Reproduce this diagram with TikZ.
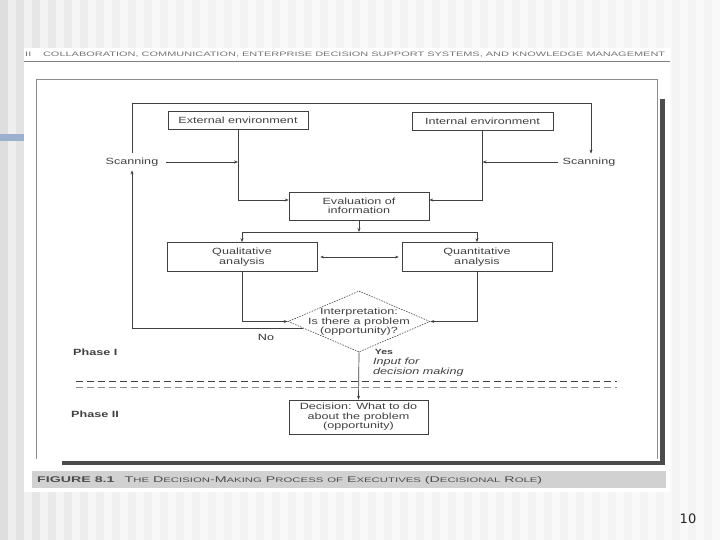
\documentclass[tikz,border=0pt]{standalone}
\usepackage{graphicx}
\usepackage{fontspec}
\setmainfont{Liberation Sans}
\newfontfamily\diag[FakeStretch=1.4]{Liberation Sans}
\newfontfamily\numfont{DejaVu Sans}
\usetikzlibrary{shapes.geometric,arrows.meta}
\definecolor{ink}{gray}{0.25}
\definecolor{barblue}{HTML}{9AB0CC}
\begin{document}
\begin{tikzpicture}[x=1pt,y=-1pt,
  box/.style={draw=ink, line width=0.6pt, inner sep=0pt, align=center,
    font=\diag\fontsize{9}{9.5}\selectfont, text=ink},
  lbl/.style={inner sep=0pt, font=\diag\fontsize{9}{9.5}\selectfont, text=ink},
  conn/.style={draw=ink, line width=0.7pt},
  arr/.style={conn, -{Stealth[length=4pt,width=3pt]}},
  dashline/.style={dash pattern=on 7pt off 4pt, line width=0.6pt},
]
\useasboundingbox (0,0) rectangle (720,540);
% slide background stripes
\foreach \i in {0,...,89}{
  \pgfmathsetmacro\s{(mod(\i,2)==0 ? 13 : 7)*(0.35+0.65*exp(-\i/8))}
  \fill[black!\s] (\i*8,0) rectangle ++(8,540);
}
\fill[barblue] (0,134) rectangle (24,141);
% scanned page
\fill[white] (24,48) rectangle (670,492);
\node[anchor=west, inner sep=0pt, text=black!55] (hdr) at (25,55)
  {\resizebox{640pt}{4.5pt}{\diag II\hspace{1.5em}COLLABORATION, COMMUNICATION, ENTERPRISE DECISION SUPPORT SYSTEMS, AND KNOWLEDGE MANAGEMENT}};
\draw[black!50, line width=0.5pt] (24,61) -- (670,61);
% figure frame
\draw[black!45, line width=0.5pt] (36,459) -- (36,79) -- (657,79) -- (657,459);
\fill[black!70] (660,99) rectangle (665,465);
\fill[black!70] (62,461) rectangle (665,465);
% caption
\fill[black!18] (32,471) rectangle (666,488);
\node[anchor=west, inner sep=0pt, text=black!70] (cap) at (37,480)
  {\resizebox{505pt}{6pt}{\diag{\bfseries FIGURE 8.1}\hspace{1em}T{\footnotesize HE} D{\footnotesize ECISION}-M{\footnotesize AKING} P{\footnotesize ROCESS} {\footnotesize OF} E{\footnotesize XECUTIVES} (D{\footnotesize ECISIONAL} R{\footnotesize OLE})}};
% page number
\node[font=\numfont\fontsize{13}{13}\selectfont, text=black!85, inner sep=0pt] (pg) at (688,519) {10};

% diagram nodes
\node[box, minimum width=140pt, minimum height=18pt] (ext) at (238,120) {External environment};
\node[box, minimum width=141pt, minimum height=18pt] (int) at (482.5,121) {Internal environment};
\node[box, minimum width=140pt, minimum height=28pt] (eval) at (359,206) {Evaluation of\\information};
\node[box, minimum width=150pt, minimum height=29pt] (qual) at (242,257) {Qualitative\\analysis};
\node[box, minimum width=150pt, minimum height=29pt] (quant) at (477,257) {Quantitative\\analysis};
\node[diamond, draw=ink, dash pattern=on 1.5pt off 1.2pt, line width=0.6pt,
  minimum width=142pt, minimum height=61pt, inner sep=0pt] (interp) at (359,321.5) {};
\node[lbl, align=center] (interpt) at (359,322) {Interpretation:\\Is there a problem\\(opportunity)?};
\node[box, minimum width=139pt, minimum height=34pt] (dec) at (358.5,417) {Decision: What to do\\about the problem\\(opportunity)};
\node[lbl] (scanL) at (132,162) {Scanning};
\node[lbl] (scanR) at (589,162) {Scanning};
\node[lbl, text=black!80] (no) at (266,337) {No};
\node[lbl, font=\diag\bfseries\fontsize{7.5}{8}\selectfont] (yes) at (384,352) {Yes};
\node[lbl, font=\diag\itshape\fontsize{9}{9.5}\selectfont, align=left, anchor=north west] (input) at (373,358) {Input for\\decision making};
\node[lbl, font=\diag\bfseries\fontsize{9}{9}\selectfont, anchor=west] (p1) at (73,352) {Phase I};
\node[lbl, font=\diag\bfseries\fontsize{9}{9}\selectfont, anchor=west] (p2) at (71,414) {Phase II};

% connectors
\coordinate (tl) at (132,103);
\coordinate (tr) at (591,103);
\draw[arr] ([yshift=5pt]scanL.north) -- (tl) -- (tr) -- ([yshift=4pt]tr |- scanR.north);
\draw[arr] ([xshift=8pt]scanL.east) -- (scanL.east -| ext.south);
\draw[arr] (ext.south) |- ([yshift=6pt]eval.west);
\draw[arr] ([xshift=-5pt]scanR.west) -- (scanR.west -| int.south);
\draw[arr] (int.south) |- ([yshift=6pt]eval.east);
\coordinate (split) at (359,232);
\draw[arr] (eval.south) -- (split);
\draw[arr] (split) -| (qual.north);
\draw[arr] (split) -| (quant.north);
\draw[conn, line width=0.4pt, {Stealth[length=3.5pt,width=2.5pt]}-{Stealth[length=3.5pt,width=2.5pt]}]
  ([xshift=3pt]qual.east) -- ([xshift=-3pt]quant.west);
\draw[arr] (qual.south) |- (interp.west);
\draw[arr] (quant.south) |- (interp.east);
\draw[arr] (interp.187) -| ([yshift=-4pt]scanL.south);
\draw[arr] (interp.south) -- (dec.north);
% phase separators
\coordinate (d1a) at (76,381);
\coordinate (d1b) at (617,381);
\coordinate (d2a) at (76,387);
\coordinate (d2b) at (617,387);
\draw[ink, dashline] (d1a) -- (d1b);
\draw[black!45, dashline] (d2a) -- (d2b);
\end{tikzpicture}
\end{document}
